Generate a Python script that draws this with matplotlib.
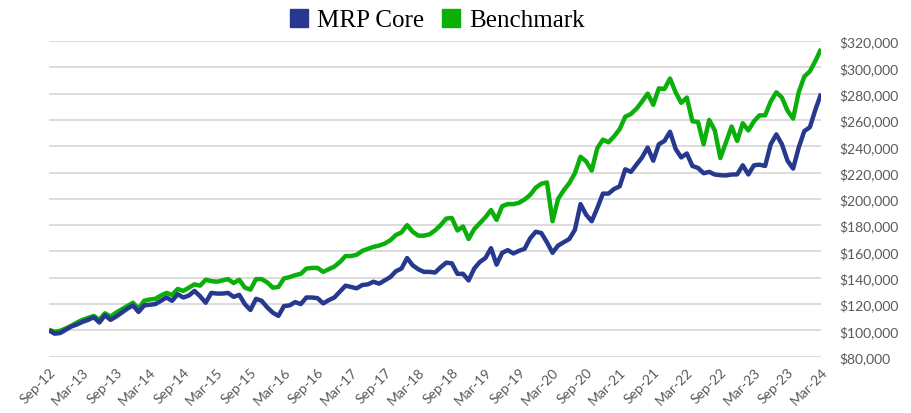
# -*- coding: utf-8 -*-
import pandas as pd
import matplotlib
matplotlib.use("Agg")
import matplotlib.pyplot as plt
from matplotlib.lines import Line2D
from matplotlib.ticker import FuncFormatter

# Valores mensuales (miles de $), Sep-12 .. Mar-24
mrp_core = [
    100, 97.5, 98, 100.5, 103, 104.5, 106.5, 108, 110, 106,
    111.5, 108, 110.5, 113.5, 116.5, 119, 114, 119, 119.5, 120,
    122.5, 125, 122.5, 127.5, 125, 126.5, 130, 126, 121, 128.5,
    128, 128, 128.5, 125.5, 127, 120, 115.5, 124, 122.5, 117.5,
    113.5, 111, 118.5, 119, 121.5, 120, 125, 125, 124.5, 120.5,
    123, 125, 129.5, 134, 133, 132, 134.5, 135, 137, 135.5,
    138, 140.5, 145, 147, 155, 149.5, 146.5, 144.5, 144.5, 144,
    148, 151.5, 151, 143, 143, 138, 147, 152, 155, 162.5,
    150, 159, 161, 158.5, 160.5, 162, 170, 175, 174, 167,
    159, 164.5, 167, 169.5, 176.5, 196, 188, 183, 193, 204,
    204, 207.5, 209.5, 222.5, 220.5, 226, 231.5, 239, 229, 241.5,
    244, 251, 238, 231.5, 234.5, 225, 223.5, 219.5, 220.5, 218.5,
    218, 217.8, 218.5, 218.6, 225.5, 218.6, 225.5, 226, 225, 241.5,
    249, 241.5, 229, 223, 239, 251.5, 254.5, 268, 280,
]
benchmark = [
    100.5, 99, 99.7, 101.5, 103.5, 106, 108, 109.5, 111, 108,
    113, 110.5, 113.5, 116, 118.5, 121, 116.5, 122.5, 123.5, 124,
    126.5, 128.5, 127, 131.5, 130, 132.5, 135, 134, 138.5, 137.5,
    137, 138, 139, 136, 138.5, 132.5, 131, 139, 139, 136.5,
    132.5, 133, 139.5, 140.5, 142, 143, 147, 147.5, 147.5, 144.5,
    146.5, 148.5, 152, 156.5, 156.5, 157.5, 160.5, 162, 163.5, 164.5,
    166, 168.5, 172.5, 174.5, 180, 175, 172, 172, 173, 176,
    180, 185, 185.5, 176, 179, 169.5, 177, 181.5, 186, 191.5,
    184, 194.5, 196, 196, 197, 199.5, 203, 208.5, 211.5, 212.5,
    183, 200, 206.5, 212, 219.5, 232, 228.5, 221.5, 238.5, 245,
    243, 247.5, 253, 262.5, 264.5, 268.5, 274, 280, 271.5, 284,
    283.5, 291.5, 281, 273, 277, 259, 258.5, 241.5, 260, 252,
    231, 243, 255, 244, 257.5, 252, 259, 263.5, 263.5, 274,
    281, 277, 267, 261, 281, 293, 297, 305, 314,
]
meses = pd.date_range("2012-09-01", periods=len(mrp_core), freq="MS")
etiquetas = meses.strftime("%b-%y")

azul = "#27398f"
verde = "#0aaf0a"
gris = "#595959"

fig = plt.figure(figsize=(9.11, 4.14), dpi=100)
ax = fig.add_axes([0.0538, 0.136, 0.8475, 0.7625])

ax.plot(range(len(benchmark)), [v * 1000 for v in benchmark], color=verde, lw=3.2,
        solid_joinstyle="round", solid_capstyle="butt", zorder=3)
ax.plot(range(len(mrp_core)), [v * 1000 for v in mrp_core], color=azul, lw=3.2,
        solid_joinstyle="round", solid_capstyle="butt", zorder=4)

ax.set_xlim(0, len(mrp_core) - 1)
ax.set_ylim(80000, 320000)
ax.set_yticks(range(80000, 320001, 20000))
ax.yaxis.set_major_formatter(FuncFormatter(lambda v, p: "${:,.0f}".format(v)))
ax.yaxis.tick_right()
ax.grid(axis="y", color="#d9d9d9", lw=1.3)
ax.set_axisbelow(True)
for s in ax.spines.values():
    s.set_visible(False)

pos = list(range(0, len(mrp_core), 6))
ax.set_xticks(pos)
ax.set_xticklabels([etiquetas[i] for i in pos], rotation=45, ha="right",
                   rotation_mode="anchor")
ax.tick_params(axis="both", length=0, colors=gris, labelsize=10)
ax.tick_params(axis="x", pad=6)
ax.tick_params(axis="y", pad=13)
for t in ax.get_xticklabels() + ax.get_yticklabels():
    t.set_family("Lato")

handles = [Line2D([], [], marker="s", ls="", color=azul, markersize=13),
           Line2D([], [], marker="s", ls="", color=verde, markersize=13)]
fig.legend(handles, ["MRP Core", "Benchmark"], loc="center", ncol=2,
           bbox_to_anchor=(0.478, 0.949), frameon=False,
           prop={"family": "Liberation Serif", "size": 18},
           handletextpad=0.2, columnspacing=0.6, handlelength=1.0)

fig.savefig("out.png", dpi=100)
